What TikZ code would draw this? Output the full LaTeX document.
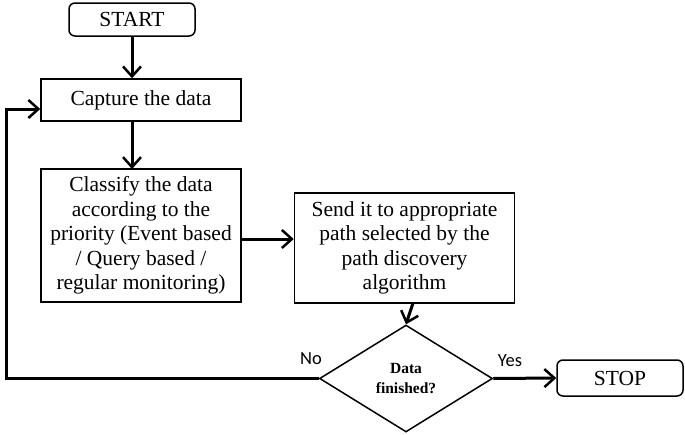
\documentclass[tikz,border=0pt]{standalone}
\usepackage{fontspec}
\setmainfont{Liberation Serif}
\newfontfamily\labfont{Carlito}
\usetikzlibrary{arrows.meta,shapes.geometric}
\begin{document}
\begin{tikzpicture}[x=1pt,y=-1pt,
  box/.style={draw,line width=1.5pt,minimum width=200pt,inner sep=0pt,align=center,
     font=\fontsize{21.5}{24.5}\selectfont},
  term/.style={box,rounded corners=6pt},
  conn/.style={line width=3pt,-{Straight Barb[length=10pt,width=18pt,line width=2.5pt]}},
  lab/.style={font=\labfont\fontsize{18.5}{22}\selectfont}]
\useasboundingbox (0,0) rectangle (685,434);
\node[term,minimum width=126pt,minimum height=33pt] (start) at (132,19.5) {START};
\node[box,minimum height=42pt] (cap) at (141,100) {Capture the data};
\node[box,minimum height=133pt] (cls) at (141,235.5) {Classify the data\\according to the\\priority (Event based\\/ Query based /\\regular monitoring)};
\node[box,minimum width=220pt,minimum height=110pt] (send) at (404.5,248) {Send it to appropriate\\path selected by the\\path discovery\\algorithm};
\node[diamond,draw,line width=1.5pt,minimum width=173pt,minimum height=107pt,inner sep=0pt,align=center,
  font=\bfseries\fontsize{15.5}{20}\selectfont] (dec) at (406,378.5) {Data\\finished?};
\node[term,minimum width=126pt,minimum height=36pt] (stop) at (620,378) {STOP};
\draw[conn] (start.south) -- (start.south |- cap.north);
\draw[conn] (132,121) -- (132,169);
\draw[conn] (cls.east |- 0,239) -- (send.west |- 0,239);
\draw[conn] (413,303) -- (dec.north);
\draw[conn] (dec.east) -- (stop.west);
\coordinate (c1) at (6,378.5);
\coordinate (c2) at (6,109);
\draw[conn] (dec.west) -- (c1) -- (c2) -- (cap.west |- c2);
\node[lab] (yes) at (510,361) {Yes};
\node[lab] (no) at (311,359) {No};
\end{tikzpicture}
\end{document}
